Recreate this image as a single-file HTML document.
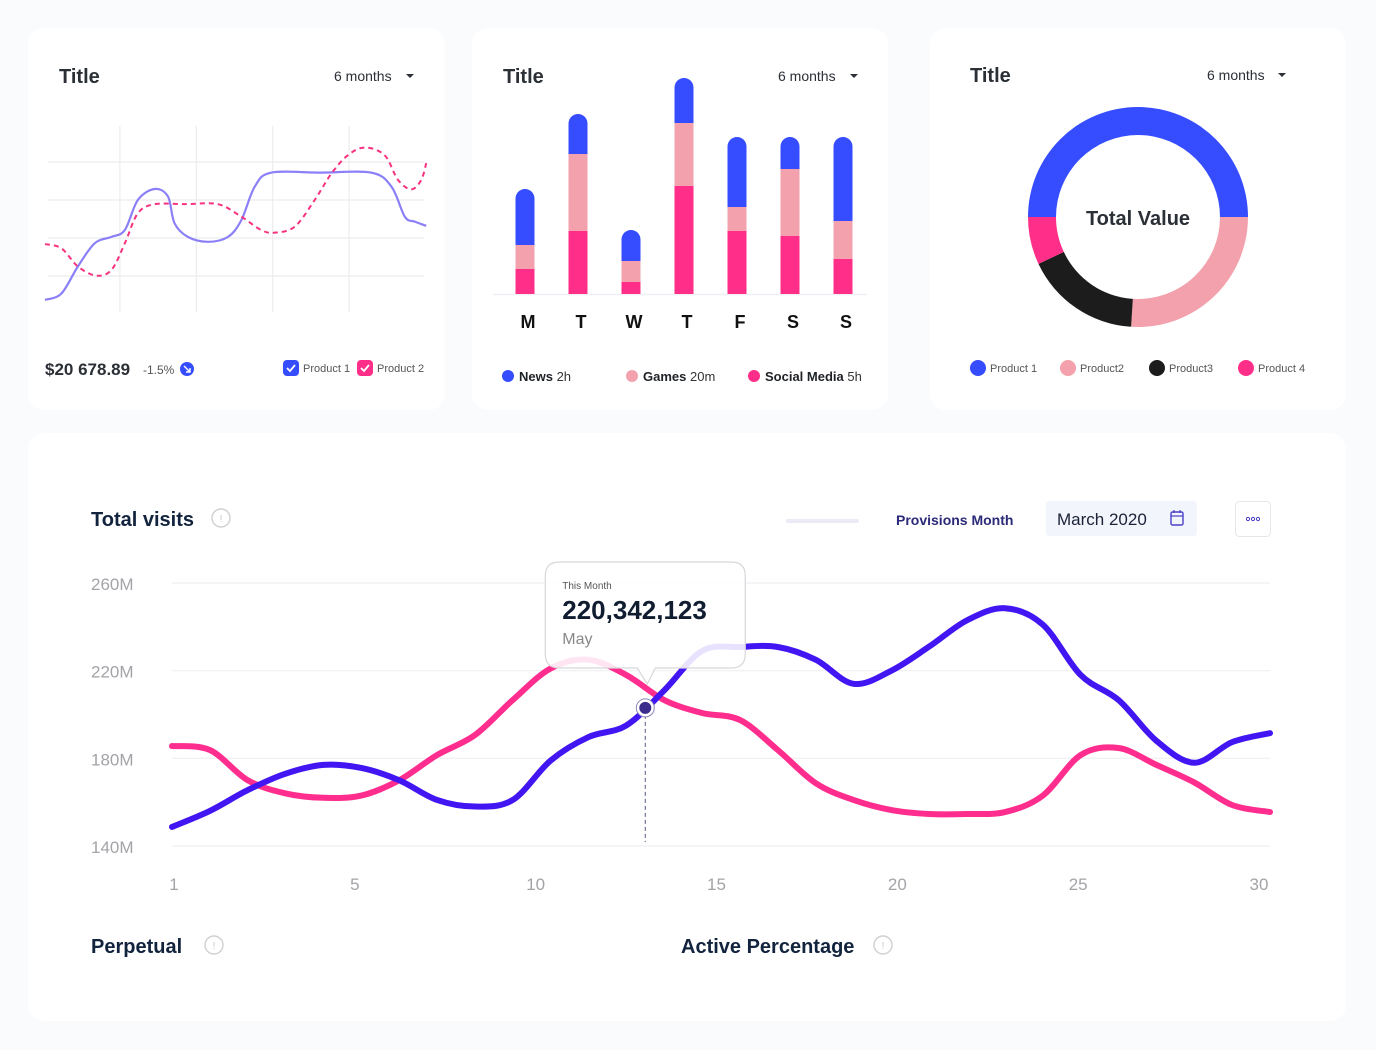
<!DOCTYPE html>
<html><head><meta charset="utf-8">
<style>
html,body{margin:0;padding:0;background:#fafbfd;}
svg{display:block;font-family:"Liberation Sans",sans-serif;}
</style></head>
<body>
<svg id="root" width="1376" height="1050" viewBox="0 0 1376 1050" xmlns="http://www.w3.org/2000/svg">
<rect x="0" y="0" width="1376" height="1050" fill="#fafbfd"/>
<!-- cards -->
<rect x="28" y="28" width="417" height="382" rx="16" fill="#fff"/>
<rect x="472" y="28" width="416" height="382" rx="16" fill="#fff"/>
<rect x="930" y="28" width="416" height="382" rx="16" fill="#fff"/>
<rect x="28" y="433" width="1318" height="588" rx="16" fill="#fff"/>

<!-- card headers -->
<text x="59" y="83" font-size="20" font-weight="700" fill="#2b2f36">Title</text>
<g><text x="334" y="81" font-size="14" fill="#2b2f36">6 months</text><path d="M406 74 l8 0 l-4 4 z" fill="#2b2f36"/></g>
<text x="503" y="83" font-size="20" font-weight="700" fill="#2b2f36">Title</text>
<g><text x="778" y="81" font-size="14" fill="#2b2f36">6 months</text><path d="M850 74 l8 0 l-4 4 z" fill="#2b2f36"/></g>
<text x="970" y="82" font-size="20" font-weight="700" fill="#2b2f36">Title</text>
<g><text x="1207" y="80" font-size="14" fill="#2b2f36">6 months</text><path d="M1278 73 l8 0 l-4 4 z" fill="#2b2f36"/></g>

<!-- line card -->
<g id="small-grid"></g>
<g id="small-lines"></g>
<text x="45" y="375" font-size="17" font-weight="700" fill="#2b2f36">$20 678.89</text>
<text x="143" y="374" font-size="12" fill="#555">-1.5%</text>
<circle cx="187" cy="369" r="7" fill="#364cff"/>
<path d="M184 366 l6 6 M190 368 v4 h-4" stroke="#fff" stroke-width="1.4" fill="none"/>
<g><rect x="283" y="360" width="16" height="16" rx="4" fill="#364cff"/><path d="M287 368 l3 3 l5 -6" stroke="#fff" stroke-width="1.8" fill="none"/><text x="303" y="372" font-size="11" fill="#555">Product 1</text></g>
<g><rect x="357" y="360" width="16" height="16" rx="4" fill="#ff2e88"/><path d="M361 368 l3 3 l5 -6" stroke="#fff" stroke-width="1.8" fill="none"/><text x="377" y="372" font-size="11" fill="#555">Product 2</text></g>

<!-- bar card -->
<line x1="493" y1="294.5" x2="867" y2="294.5" stroke="#eef0f3" stroke-width="1.5"/>
<g id="bars"></g>
<g><circle cx="508" cy="376" r="6" fill="#364cff"/><text x="519" y="381" font-size="13" font-weight="700" fill="#1e2126">News <tspan font-weight="400" fill="#333">2h</tspan></text></g>
<g><circle cx="632" cy="376" r="6" fill="#f3a1ac"/><text x="643" y="381" font-size="13" font-weight="700" fill="#1e2126">Games <tspan font-weight="400" fill="#333">20m</tspan></text></g>
<g><circle cx="754" cy="376" r="6" fill="#ff2e88"/><text x="765" y="381" font-size="13" font-weight="700" fill="#1e2126">Social Media <tspan font-weight="400" fill="#333">5h</tspan></text></g>

<!-- donut card -->
<g id="donut"></g>
<text x="1138" y="225" font-size="20" font-weight="700" fill="#2b2f36" text-anchor="middle">Total Value</text>
<g><circle cx="978" cy="368" r="8" fill="#364cff"/><text x="990" y="372" font-size="11" fill="#555">Product 1</text></g>
<g><circle cx="1068" cy="368" r="8" fill="#f3a1ac"/><text x="1080" y="372" font-size="11" fill="#555">Product2</text></g>
<g><circle cx="1157" cy="368" r="8" fill="#1c1c1c"/><text x="1169" y="372" font-size="11" fill="#555">Product3</text></g>
<g><circle cx="1246" cy="368" r="8" fill="#ff2e88"/><text x="1258" y="372" font-size="11" fill="#555">Product 4</text></g>

<!-- visits card header -->
<text x="91" y="526" font-size="20" font-weight="700" fill="#12233d">Total visits</text>
<g><circle cx="221" cy="518" r="9" fill="none" stroke="#d0d0d0" stroke-width="1.4"/><text x="221" y="522" font-size="10" fill="#c8c8c8" text-anchor="middle">!</text></g>
<rect x="786" y="519" width="73" height="4" rx="2" fill="#ebeaf5"/>
<text x="896" y="525" font-size="14" font-weight="700" fill="#2a2a78">Provisions Month</text>
<g><rect x="1046" y="501" width="151" height="35" rx="3" fill="#f3f5fc"/><text x="1057" y="525" font-size="17" fill="#1b2238">March 2020</text><rect x="1171" y="512" width="12" height="13" rx="1.5" fill="none" stroke="#4a3fc8" stroke-width="1.4"/><line x1="1171" y1="516" x2="1183" y2="516" stroke="#4a3fc8" stroke-width="1.2"/><line x1="1174" y1="510" x2="1174" y2="513" stroke="#4a3fc8" stroke-width="1.2"/><line x1="1180" y1="510" x2="1180" y2="513" stroke="#4a3fc8" stroke-width="1.2"/></g>
<g><rect x="1235.5" y="501.5" width="35" height="35" rx="4" fill="#fff" stroke="#e6e6ea"/><circle cx="1248" cy="519" r="1.6" fill="none" stroke="#4a3fc8" stroke-width="1"/><circle cx="1253" cy="519" r="1.6" fill="none" stroke="#4a3fc8" stroke-width="1"/><circle cx="1258" cy="519" r="1.6" fill="none" stroke="#4a3fc8" stroke-width="1"/></g>

<g id="big-grid"></g>
<g id="big-lines"></g>

<text x="91" y="953" font-size="20" font-weight="700" fill="#12233d">Perpetual</text>
<g><circle cx="214" cy="945" r="9" fill="none" stroke="#d0d0d0" stroke-width="1.4"/><text x="214" y="949" font-size="10" fill="#c8c8c8" text-anchor="middle">!</text></g>
<text x="681" y="953" font-size="20" font-weight="700" fill="#12233d">Active Percentage</text>
<g><circle cx="883" cy="945" r="9" fill="none" stroke="#d0d0d0" stroke-width="1.4"/><text x="883" y="949" font-size="10" fill="#c8c8c8" text-anchor="middle">!</text></g>
</svg>
<script>
// ---- small line chart data ----
const p1X = [0,0.43,0.86,1.3,1.74,2.09,2.43,2.87,3.22,3.39,3.74,4.27,4.79,5.14,5.49,5.92,7.2,8.54,9.07,9.42,9.68,9.98];
const p1Y = [0.37,0.54,1.25,1.86,2.03,2.21,3.0,3.29,3.09,2.39,2.03,1.9,2.03,2.47,3.35,3.72,3.72,3.72,3.35,2.56,2.43,2.32];
const p2X = [0,0.43,0.86,1.34,1.74,2.09,2.43,2.87,3.7,4.53,5.14,5.66,6.01,6.54,7.06,7.5,7.93,8.37,8.89,9.24,9.59,9.85,9.98];
const p2Y = [1.84,1.73,1.25,1.01,1.16,1.86,2.65,2.89,2.89,2.89,2.56,2.21,2.14,2.3,3.0,3.7,4.18,4.38,4.18,3.53,3.28,3.53,3.97];
const smallGridY = [1,2,3,4];
const smallGridX = [2,4,6,8];
// ---- bar chart data ----
const days = ["M","T","W","T","F","S","S"];
const social = [25,63,12,108,63,58,35];
const games = [24,77,21,63,24,67,38];
const news = [56,40,31,45,70,32,84];
// ---- donut data ----
const donutLabels = ["Product 1","Product2","Product3","Product 4"];
const donutValues = [50,26,17,7];
// ---- visits chart data ----
const visitDays = [1,2,3,4,5,6,7,8,9,10,11,12,13,14,15,16,17,18,19,20,21,22,23,24,25,26,27,28,29,30];
const visitsBlue = [148.7,156,165.5,173,177,175.6,170,161,158,161,179,189.7,195,211,229,230.8,230.8,225,214,220,231,243,248.5,241,218,206.6,188,178,187.4,191.5];
const visitsPink = [185.6,183.8,170,164,162,163,170,181.5,190.6,206.6,221,225,218,206.6,200.7,197.5,183.8,168.7,161,156.4,154.6,154.6,155.5,163,181.5,184.7,177,169,158.7,155.5];
const yTicks = [260,220,180,140];
const yTickLabels = ["260M","220M","180M","140M"];
const xTickLabels = ["1","5","10","15","20","25","30"];
const hoverDay = 13.5;
const hoverValue = "220,342,123";
const hoverLabel = "May";

const NS = "http://www.w3.org/2000/svg";
function mk(tag, attrs, parent){const e=document.createElementNS(NS,tag);for(const k in attrs)e.setAttribute(k,attrs[k]);parent.appendChild(e);return e;}
function smooth(pts){
  let d="M"+pts[0][0]+" "+pts[0][1];
  for(let i=0;i<pts.length-1;i++){
    const p0=pts[i-1]||pts[i],p1=pts[i],p2=pts[i+1],p3=pts[i+2]||p2;
    const c1x=p1[0]+(p2[0]-p0[0])/6,c1y=p1[1]+(p2[1]-p0[1])/6;
    const c2x=p2[0]-(p3[0]-p1[0])/6,c2y=p2[1]-(p3[1]-p1[1])/6;
    d+=" C"+c1x+" "+c1y+" "+c2x+" "+c2y+" "+p2[0]+" "+p2[1];
  }
  return d;
}

// small chart
(function(){
  const sx=t=>45+t*38.2, sy=v=>314-v*38;
  const g=document.getElementById('small-grid');
  smallGridY.forEach(v=>{const l=mk('line',{x1:48,x2:424,y1:sy(v),y2:sy(v),stroke:'#ececec','stroke-width':1.2},g);
    
    });
  smallGridX.forEach(t=>{const x=sx(t)-1.5;const l=mk('line',{x1:x,x2:x,y1:126,y2:312,stroke:'#ececec','stroke-width':1.2},g);
    
    });
  const lg=document.getElementById('small-lines');
  const a=mk('path',{d:smooth(p1X.map((t,i)=>[sx(t),sy(p1Y[i])])),fill:'none',stroke:'#8b80f7','stroke-width':2.2},lg);
  
  
  const b=mk('path',{d:smooth(p2X.map((t,i)=>[sx(t),sy(p2Y[i])])),fill:'none',stroke:'#f7327f','stroke-width':2,'stroke-dasharray':'5 4'},lg);
  
  
})();

// bars
(function(){
  const g=document.getElementById('bars');
  const base=294, w=19;
  days.forEach((d,i)=>{
    const cx=525+i*53, x=cx-w/2;
    let y=base;
    const s=mk('rect',{x:x,y:y-social[i],width:w,height:social[i],fill:'#ff2e88'},g);
    
    
    y-=social[i];
    const gm=mk('rect',{x:x,y:y-games[i],width:w,height:games[i],fill:'#f3a1ac'},g);
    
    
    y-=games[i];
    const top=y-news[i], r=w/2;
    const n=mk('path',{d:`M${x} ${y} V${top+r} A${r} ${r} 0 0 1 ${x+w} ${top+r} V${y} Z`,fill:'#364cff'},g);
    
    
    const t=mk('text',{x:cx+3,y:328,'font-size':18,'font-weight':700,fill:'#111','text-anchor':'middle'},g);
    t.textContent=d;
    
    
  });
})();

// donut
(function(){
  const g=document.getElementById('donut');
  const cx=1138,cy=217,R=110,r=82;
  const cols=['#364cff','#f3a1ac','#1c1c1c','#ff2e88'];
  const tot=donutValues.reduce((a,b)=>a+b,0);
  let ang=Math.PI;
  donutValues.forEach((v,i)=>{
    const a0=ang,a1=ang+v/tot*2*Math.PI;ang=a1;
    const lg=(a1-a0)>Math.PI?1:0;
    const p=(rad,a)=>[cx+rad*Math.cos(a),cy+rad*Math.sin(a)];
    const [x0,y0]=p(R,a0),[x1,y1]=p(R,a1),[x2,y2]=p(r,a1),[x3,y3]=p(r,a0);
    const s=mk('path',{d:`M${x0} ${y0} A${R} ${R} 0 ${lg} 1 ${x1} ${y1} L${x2} ${y2} A${r} ${r} 0 ${lg} 0 ${x3} ${y3} Z`,fill:cols[i]},g);
    
    
  });
})();

// visits chart
(function(){
  const X=d=>172+(d-1)*(1098/29), Y=v=>846-(v-140)*(263/120);
  const g=document.getElementById('big-grid');
  yTicks.forEach((v,i)=>{
    const l=mk('line',{x1:172,x2:1270,y1:Y(v),y2:Y(v),stroke:'#efeff3','stroke-width':1.2},g);
    
    
    const t=mk('text',{x:91,y:Y(v)+7,'font-size':17,fill:'#a3a3a8'},g);
    t.textContent=yTickLabels[i];
    
    
  });
  const step=(1259-174)/(xTickLabels.length-1);
  xTickLabels.forEach((lab,i)=>{
    const t=mk('text',{x:174+i*step,y:890,'font-size':17,fill:'#a3a3a8','text-anchor':'middle'},g);
    t.textContent=lab;
    
    
  });
  const lg=document.getElementById('big-lines');
  const pk=mk('path',{d:smooth(visitDays.map((d,i)=>[X(d),Y(visitsPink[i])])),fill:'none',stroke:'#ff2d8e','stroke-width':6,'stroke-linecap':'round'},lg);
  
  
  const bl=mk('path',{d:smooth(visitDays.map((d,i)=>[X(d),Y(visitsBlue[i])])),fill:'none',stroke:'#4216f2','stroke-width':6,'stroke-linecap':'round'},lg);
  
  
  const hx=X(hoverDay);
  const bi=Math.floor(hoverDay)-1, f=hoverDay-Math.floor(hoverDay);
  const hv=visitsBlue[bi]*(1-f)+visitsBlue[bi+1]*f;
  const hy=Y(hv);
  const dl=mk('line',{x1:hx,x2:hx,y1:hy,y2:842,stroke:'#555a7a','stroke-width':1,'stroke-dasharray':'4 3'},lg);
  
  
  const c=mk('circle',{cx:hx,cy:hy,r:9,fill:'#fff',stroke:'#8a86b8','stroke-width':1},lg);
  
  
  const c2=mk('circle',{cx:hx,cy:hy,r:6,fill:'#3b2c8c'},lg);
  
  
  // tooltip
  const tg=mk('g',{},lg);
  
  
  const bx=hx-100, by=562;
  mk('path',{d:`M${bx+14} ${by} H${bx+186} Q${bx+200} ${by} ${bx+200} ${by+14} V${by+92} Q${bx+200} ${by+106} ${bx+186} ${by+106} H${hx+10} L${hx+2} ${by+122} L${hx-8} ${by+106} H${bx+14} Q${bx} ${by+106} ${bx} ${by+92} V${by+14} Q${bx} ${by} ${bx+14} ${by} Z`,fill:'rgba(255,255,255,0.88)',stroke:'#d8d8dc','stroke-width':1.2},tg);
  const t1=mk('text',{x:bx+17,y:by+27,'font-size':10,fill:'#555'},tg);t1.textContent='This Month';
  
  
  const t2=mk('text',{x:bx+17,y:by+57,'font-size':26,'font-weight':700,fill:'#101c30'},tg);t2.textContent=hoverValue;
  
  
  const t3=mk('text',{x:bx+17,y:by+82,'font-size':16,fill:'#888'},tg);t3.textContent=hoverLabel;
  
  
})();
</script>
</body></html>
